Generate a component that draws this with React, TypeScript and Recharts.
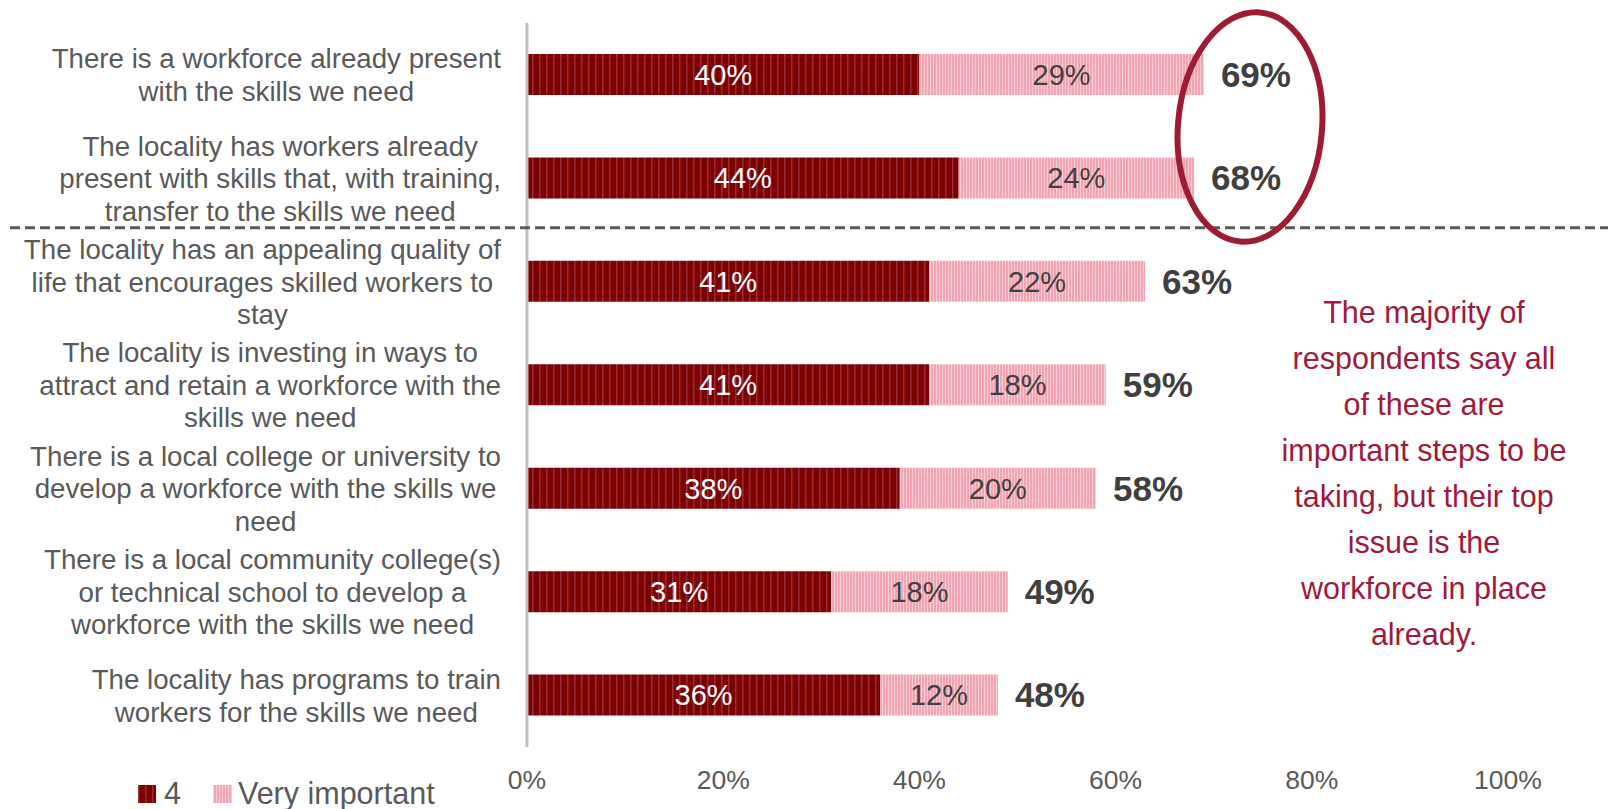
import { BarChart, Bar, XAxis, YAxis, LabelList } from 'recharts';

const categories = [
  ['There is a workforce already present', 'with the skills we need'],
  ['The locality has workers already', 'present with skills that, with training,', 'transfer to the skills we need'],
  ['The locality has an appealing quality of', 'life that encourages skilled workers to', 'stay'],
  ['The locality is investing in ways to', 'attract and retain a workforce with the', 'skills we need'],
  ['There is a local college or university to', 'develop a workforce with the skills we', 'need'],
  ['There is a local community college(s)', 'or technical school to develop a', 'workforce with the skills we need'],
  ['The locality has programs to train', 'workers for the skills we need'],
];

const fourValues = [40, 44, 41, 41, 38, 31, 36];
const veryImportantValues = [29, 24, 22, 18, 20, 18, 12];
const totalValues = [69, 68, 63, 59, 58, 49, 48];

const xTicks = [0, 20, 40, 60, 80, 100];

const noteLines = [
  'The majority of',
  'respondents say all',
  'of these are',
  'important steps to be',
  'taking, but their top',
  'issue is the',
  'workforce in place',
  'already.',
];

const FONT = "'Liberation Sans', Arial, sans-serif";
const TEXT_GRAY = '#595959';
const DARK_RED = '#7c0000';
const PINK = '#f3a3b2';
const NOTE_RED = '#a0193a';

const data = categories.map((lines, i) => ({
  name: lines.join('\n'),
  four: fourValues[i],
  very: veryImportantValues[i],
  total: totalValues[i],
}));

// chart box
const W = 1608;
const H = 809;
const MARGIN = { top: 23, right: 100, bottom: 12, left: 0 };
const Y_AXIS_W = 527;
const X_AXIS_H = 50;
const plotTop = MARGIN.top;
const plotBottom = H - MARGIN.bottom - X_AXIS_H;
const band = (plotBottom - plotTop) / categories.length;

let ctx: CanvasRenderingContext2D | null = null;
const measure = (s: string, size: number) => {
  if (!ctx) ctx = document.createElement('canvas').getContext('2d');
  if (!ctx) return s.length * size * 0.5;
  ctx.font = `${size}px ${FONT}`;
  return ctx.measureText(s).width;
};

const CategoryTick = ({ y, payload }: any) => {
  const lines: string[] = String(payload.value).split('\n');
  const size = 27.7;
  const lh = 32.5;
  const maxW = Math.max(...lines.map((l) => measure(l, size)));
  const cx = 501 - maxW / 2;
  const startY = y - ((lines.length - 1) * lh) / 2;
  return (
    <text textAnchor="middle" fill={TEXT_GRAY} fontSize={size} fontFamily={FONT}>
      {lines.map((l, i) => (
        <tspan key={i} x={cx} y={startY + i * lh} dy="0.36em">
          {l}
        </tspan>
      ))}
    </text>
  );
};

const PctTick = ({ x, y, payload }: any) => (
  <text x={x} y={y} dy="0.36em" textAnchor="middle" fill={TEXT_GRAY} fontSize={26.5} fontFamily={FONT}>
    {payload.value}%
  </text>
);

export default function App() {
  const sepY = plotTop + band * 2 - 2;
  return (
    <div style={{ position: 'absolute', left: 0, top: 0, width: W, height: H, background: '#fff', overflow: 'hidden' }}>
      <BarChart width={W} height={H} data={data} layout="vertical" margin={MARGIN}>
        <defs>
          <pattern id="darkStripe" width="7" height="10" patternUnits="userSpaceOnUse">
            <rect width="7" height="10" fill={DARK_RED} />
            <rect x="0" width="1.5" height="10" fill="#9a2b38" />
          </pattern>
          <pattern id="pinkStripe" width="3" height="10" patternUnits="userSpaceOnUse">
            <rect width="3" height="10" fill={PINK} />
            <rect x="0" width="1" height="10" fill="#fad0d8" />
          </pattern>
        </defs>
        <XAxis
          type="number"
          domain={[0, 100]}
          ticks={xTicks}
          axisLine={false}
          tickLine={false}
          height={X_AXIS_H}
          tick={<PctTick />}
          tickMargin={26}
          interval={0}
        />
        <YAxis
          type="category"
          dataKey="name"
          width={Y_AXIS_W}
          axisLine={{ stroke: '#bfbfbf', strokeWidth: 3 }}
          tickLine={false}
          tick={<CategoryTick />}
          interval={0}
        />
        <Bar dataKey="four" name="4" stackId="a" fill="url(#darkStripe)" barSize={41} isAnimationActive={false}>
          <LabelList
            dataKey="four"
            position="center"
            fill="#ffffff"
            fontSize={29}
            fontFamily={FONT}
            formatter={(v: any) => `${v}%`}
          />
        </Bar>
        <Bar dataKey="very" name="Very important" stackId="a" fill="url(#pinkStripe)" barSize={41} isAnimationActive={false}>
          <LabelList
            dataKey="very"
            position="center"
            fill="#404040"
            fontSize={29}
            fontFamily={FONT}
            formatter={(v: any) => `${v}%`}
          />
          <LabelList
            dataKey="total"
            position="right"
            offset={17}
            fill="#3f3f3f"
            fontSize={35}
            fontWeight="bold"
            fontFamily={FONT}
            formatter={(v: any) => `${v}%`}
          />
        </Bar>
      </BarChart>

      <svg width={W} height={H} style={{ position: 'absolute', left: 0, top: 0, pointerEvents: 'none' }}>
        <line x1={10} x2={W} y1={sepY} y2={sepY} stroke="#595959" strokeWidth={3} strokeDasharray="10 5" />
        <ellipse
          cx={1250}
          cy={127}
          rx={72}
          ry={115}
          fill="none"
          stroke="#9e1b34"
          strokeWidth={6}
          transform="rotate(5 1250 127)"
        />
        <text textAnchor="middle" fill={NOTE_RED} fontSize={30.5} fontFamily={FONT}>
          {noteLines.map((l, i) => (
            <tspan key={i} x={1424} y={312 + i * 46} dy="0.36em">
              {l}
            </tspan>
          ))}
        </text>
      </svg>

      <div
        style={{
          position: 'absolute',
          left: 138,
          top: 776,
          display: 'flex',
          alignItems: 'center',
          fontFamily: FONT,
          fontSize: 30.5,
          color: TEXT_GRAY,
          whiteSpace: 'nowrap',
        }}
      >
        <svg width={18} height={18} style={{ marginRight: 8 }}>
          <rect width={18} height={18} fill="url(#darkStripe)" />
        </svg>
        <span style={{ marginRight: 32 }}>4</span>
        <svg width={19} height={18} style={{ marginRight: 6 }}>
          <rect width={19} height={18} fill="url(#pinkStripe)" />
        </svg>
        <span>Very important</span>
      </div>
    </div>
  );
}
